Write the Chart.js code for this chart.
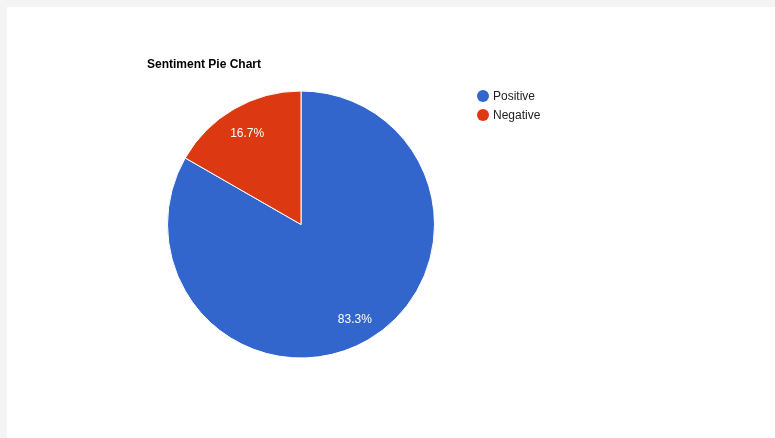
<!DOCTYPE html>
<html>
<head>
<meta charset="utf-8">
<script src="https://cdn.jsdelivr.net/npm/chart.js@4/dist/chart.umd.min.js"></script>
<style>
  html, body { margin: 0; padding: 0; }
  body { width: 775px; height: 438px; background: #f4f4f4; position: relative; overflow: hidden;
         font-family: Arial, "Liberation Sans", sans-serif; }
  #panel { position: absolute; left: 7px; top: 7px; width: 768px; height: 431px; background: #ffffff; }
  #chart { position: absolute; left: 0; top: 0; }
  .lg-item { position: absolute; left: 470px; height: 14px; font-size: 12px; line-height: 14px; color: #222222; white-space: nowrap; }
  .lg-dot { position: absolute; left: 0; top: 1px; width: 12px; height: 12px; border-radius: 50%; }
  .lg-text { position: absolute; left: 16px; top: 0; }
</style>
</head>
<body>
<div id="panel">
  <canvas id="chart" width="768" height="431"></canvas>
  <div id="legend"></div>
</div>
<script>
const chartTitle = "Sentiment Pie Chart";
const categories = ["Positive", "Negative"];
const sentimentValues = [83.3, 16.7];
const sliceColors = ["#3366cc", "#dc3912"];

const FONT = 'Arial, "Liberation Sans", sans-serif';

const sliceLabels = {
  id: 'sliceLabels',
  afterDatasetsDraw(chart) {
    const ctx = chart.ctx;
    const meta = chart.getDatasetMeta(0);
    const data = chart.data.datasets[0].data;
    const total = data.reduce((a, b) => a + b, 0);
    ctx.save();
    ctx.font = '12px ' + FONT;
    ctx.fillStyle = '#ffffff';
    ctx.textAlign = 'center';
    ctx.textBaseline = 'middle';
    meta.data.forEach((arc, i) => {
      const p = arc.getProps(['x', 'y', 'startAngle', 'endAngle', 'outerRadius'], true);
      const mid = (p.startAngle + p.endAngle) / 2;
      const r = p.outerRadius * 0.805;
      const tx = p.x + Math.cos(mid) * r;
      const ty = p.y + Math.sin(mid) * r;
      const pct = (data[i] / total * 100).toFixed(1) + '%';
      ctx.fillText(pct, tx, ty + 2);
    });
    ctx.restore();
  }
};

new Chart(document.getElementById('chart'), {
  type: 'pie',
  data: {
    labels: categories,
    datasets: [{
      data: sentimentValues,
      backgroundColor: sliceColors,
      borderColor: '#ffffff',
      borderWidth: 1,
      hoverOffset: 0
    }]
  },
  options: {
    responsive: false,
    devicePixelRatio: 1,
    animation: false,
    events: [],
    layout: { padding: { left: 140, right: 320, top: 0, bottom: 79.5 } },
    plugins: {
      legend: { display: false },
      tooltip: { enabled: false },
      title: {
        display: true,
        text: chartTitle,
        align: 'start',
        color: '#000000',
        font: { family: FONT, size: 12, weight: 'bold', lineHeight: 1.2 },
        padding: { top: 50, bottom: 19.1 }
      }
    }
  },
  plugins: [sliceLabels]
});

// legend (HTML, real text)
const legendEl = document.getElementById('legend');
categories.forEach((name, i) => {
  const item = document.createElement('div');
  item.className = 'lg-item';
  item.style.top = (82 + i * 19.3) + 'px';
  const dot = document.createElement('div');
  dot.className = 'lg-dot';
  dot.style.background = sliceColors[i];
  const txt = document.createElement('span');
  txt.className = 'lg-text';
  txt.textContent = name;
  item.appendChild(dot);
  item.appendChild(txt);
  legendEl.appendChild(item);
});
</script>
</body>
</html>
